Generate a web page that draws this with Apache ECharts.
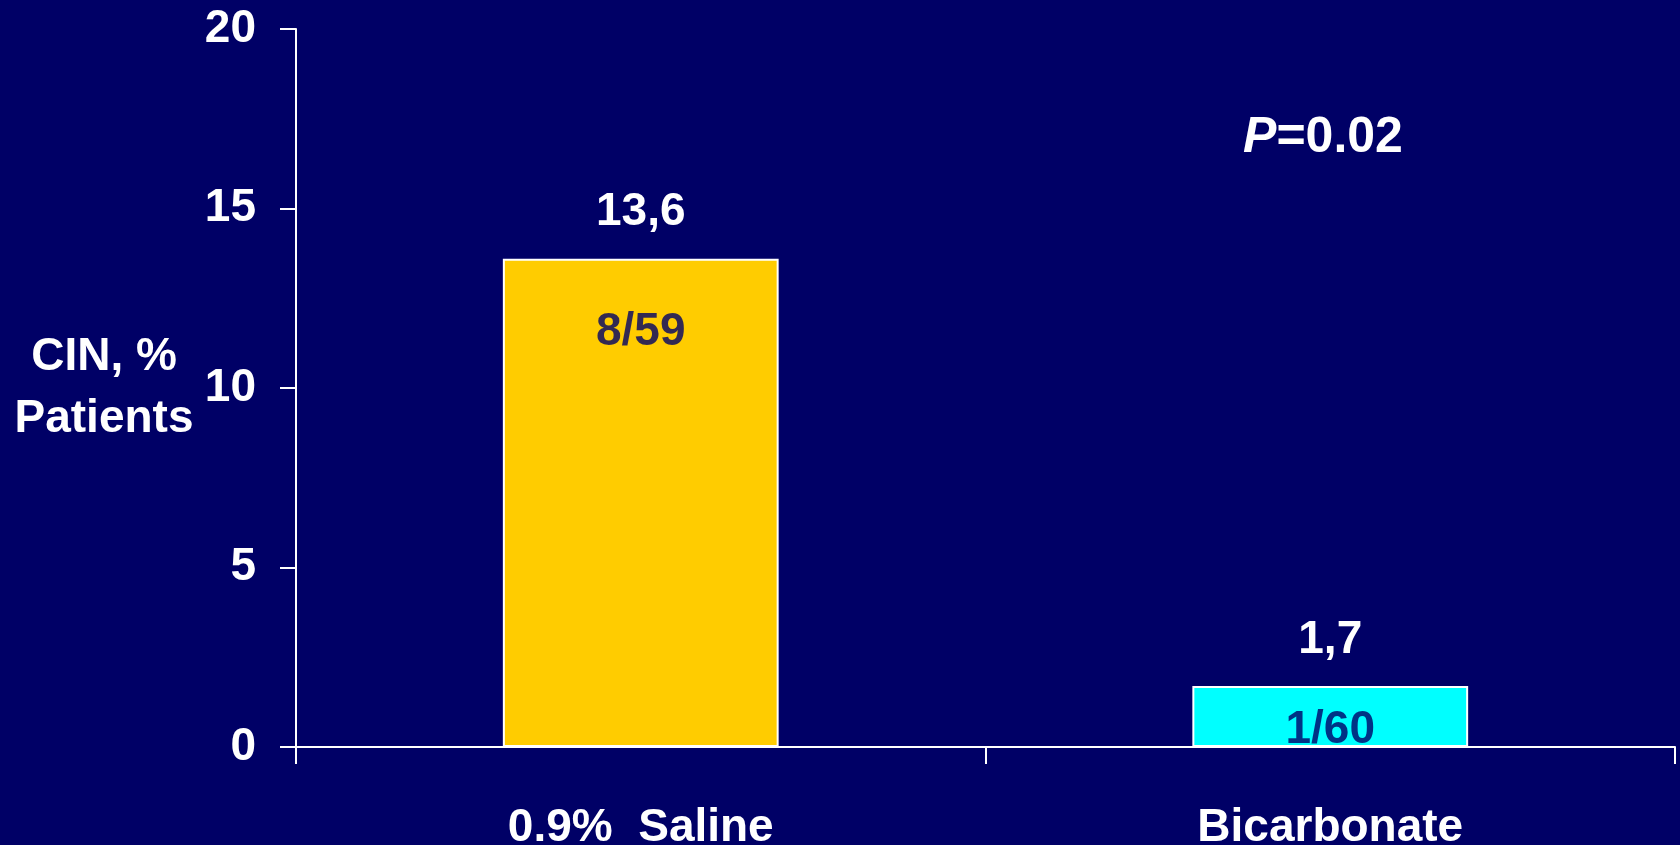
<!DOCTYPE html>
<html>
<head>
<meta charset="utf-8">
<title>CIN incidence</title>
<script src="https://cdn.jsdelivr.net/npm/echarts@6/dist/echarts.min.js"></script>
<style>
  html, body { margin: 0; padding: 0; background: #000066; }
  #chart { width: 1680px; height: 845px; }
</style>
</head>
<body>
<div id="chart"></div>
<script>
// Contrast-induced nephropathy by hydration regimen
const categories = ['0.9%  Saline', 'Bicarbonate'];
const cinPercent = [13.6, 1.7];
const eventCounts = ['8/59', '1/60'];
const barColors = ['#FFCC00', '#00FFFF'];
const yTicks = { min: 0, max: 20, interval: 5 };
const pValueText = '0.02';

const FONT = 'Liberation Sans, Arial, sans-serif';
const NAVY = '#000066';

const chart = echarts.init(document.getElementById('chart'), null, { renderer: 'canvas' });

// distance of each count label below its bar top
const countLabelGap = [51, 21];

chart.setOption({
  backgroundColor: NAVY,
  animation: false,
  grid: {
    left: 296, right: 5, top: 29, bottom: 98,
    containLabel: false,
    outerBoundsMode: 'none'
  },
  xAxis: {
    type: 'category',
    data: categories,
    axisLine: { lineStyle: { color: '#fff', width: 2 } },
    axisTick: { show: true, length: 17, lineStyle: { color: '#fff', width: 2 } },
    axisLabel: {
      color: '#fff', fontFamily: FONT, fontWeight: 'bold', fontSize: 46, margin: 58
    }
  },
  yAxis: {
    type: 'value',
    min: yTicks.min, max: yTicks.max, interval: yTicks.interval,
    name: 'CIN, %\nPatients',
    nameLocation: 'middle',
    nameRotate: 0,
    nameGap: 192,
    nameTextStyle: {
      color: '#fff', fontFamily: FONT, fontWeight: 'bold', fontSize: 46,
      lineHeight: 62, align: 'center', padding: [7, 0, 0, 0]
    },
    axisLine: { show: true, lineStyle: { color: '#fff', width: 2 } },
    axisTick: { show: true, length: 16, lineStyle: { color: '#fff', width: 2 } },
    splitLine: { show: false },
    axisLabel: {
      color: '#fff', fontFamily: FONT, fontWeight: 'bold', fontSize: 46, margin: 40,
      padding: [5, 0, 0, 0]
    }
  },
  series: [
    {
      type: 'bar',
      barWidth: '40%',
      data: cinPercent.map((v, i) => ({
        value: v,
        itemStyle: { color: barColors[i], borderColor: '#fff', borderWidth: 2 }
      })),
      label: {
        show: true,
        position: 'top',
        distance: 23,
        color: '#fff', fontFamily: FONT, fontWeight: 'bold', fontSize: 46,
        formatter: p => String(p.value).replace('.', ',')
      },
      z: 2
    },
    {
      // event counts printed inside each bar
      type: 'scatter',
      symbolSize: 0,
      silent: true,
      data: cinPercent.map((v, i) => ({
        value: [i, v],
        label: { distance: countLabelGap[i] }
      })),
      label: {
        show: true,
        position: 'bottom',
        color: NAVY, fontFamily: FONT, fontWeight: 'bold', fontSize: 46,
        formatter: p => eventCounts[p.dataIndex]
      },
      z: 3
    }
  ],
  graphic: [
    {
      type: 'text',
      x: 1323, y: 138,
      style: {
        text: '{p|P}{v|=' + pValueText + '}',
        align: 'center', verticalAlign: 'middle',
        rich: {
          p: { fill: '#fff', fontFamily: FONT, fontWeight: 'bold', fontStyle: 'italic', fontSize: 50 },
          v: { fill: '#fff', fontFamily: FONT, fontWeight: 'bold', fontSize: 50 }
        }
      }
    }
  ]
});
</script>
</body>
</html>
